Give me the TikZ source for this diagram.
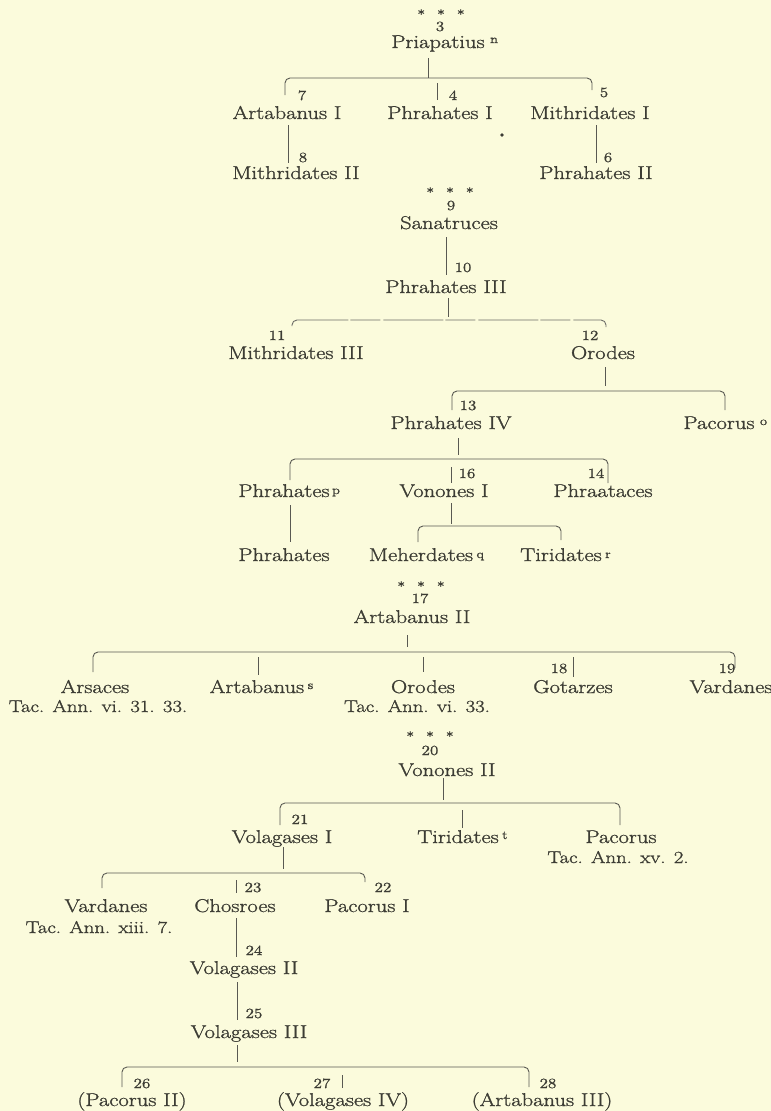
\documentclass[tikz,border=0pt]{standalone}
\usepackage{fontspec}
\setmainfont{Latin Modern Roman}[FakeStretch=1.22, FakeBold=1.2]
\definecolor{paper}{HTML}{FBFBDC}
\definecolor{ink}{HTML}{3C3C34}
\tikzset{
  nm/.style={anchor=base, inner sep=0pt, font=\fontsize{18.5}{18.5}\selectfont, text=ink},
  tac/.style={anchor=base, inner sep=0pt, font=\fontsize{17}{17}\selectfont, text=ink},
  num/.style={anchor=base, inner sep=0pt, font=\fontsize{14}{14}\selectfont, text=ink},
  supl/.style={anchor=base west, inner sep=0pt, font=\fontsize{12}{12}\selectfont, text=ink},
  starrow/.style={anchor=base, inner sep=0pt, font=\fontsize{13}{13}\selectfont, text=ink},
  ln/.style={draw=ink!85, line width=0.9pt},
  br/.style={ln, rounded corners=5pt},
  faint/.style={br, draw=ink!75, dash pattern=on 60pt off 2pt on 30pt off 3pt},
}
\newcommand{\stars}{*\hspace{12pt}*\hspace{12pt}*}
\begin{document}
\begin{tikzpicture}[x=1pt,y=-1pt]
\fill[paper] (0,0) rectangle (771,1111);
\useasboundingbox (0,0) rectangle (771,1111);

% ---------- Priapatius ----------
\node[starrow] (st3) at (441,19) {\stars};
\node[num] (n3) at (440,31) {3};
\node[nm] (pri) at (438,48) {Priapatius};
\node[supl] (priS) at ([xshift=5pt,yshift=5pt]pri.base east) {n};
\draw[ln] (428,58) -- (428,78);
\draw[br] (285,95) -- (285,78) -- (592,78) -- (592,90);
\draw[ln] (437,83) -- (437,100);
\node[num] (n7) at (302,100) {7};
\node[num] (n4) at (453,100) {4};
\node[num] (n5) at (604,97) {5};
\node[nm] (artI) at (287,119) {Artabanus I};
\node[nm] (phrI) at (440,119) {Phrahates I};
\node[nm] (mitI) at (590,119) {Mithridates I};
\fill[ink] (502,135) circle (1.9);
\draw[ln] (288,125) -- (288,163);
\draw[ln] (596,125) -- (596,163);
\node[num] (n8) at (303,162) {8};
\node[num] (n6) at (608,162) {6};
\node[nm] (mitII) at (296,179) {Mithridates II};
\node[nm] (phrII) at (596,179) {Phrahates II};

% ---------- Sanatruces ----------
\node[starrow] (st9) at (450,197) {\stars};
\node[num] (n9) at (451,210) {9};
\node[nm] (sana) at (449,229) {Sanatruces};
\draw[ln] (446,237) -- (446,275);
\node[num] (n10) at (463,272) {10};
\node[nm] (phrIII) at (446,293) {Phrahates III};
\draw[ln] (448,298) -- (448,317);
\draw[faint] (292,326) -- (292,320) -- (606,320) -- (606,327);
\node[num] (n11) at (277,340) {11};
\node[num] (n12) at (590,340) {12};
\node[nm] (mitIII) at (296,359) {Mithridates III};
\node[nm] (orodes) at (603,359) {Orodes};

% ---------- Orodes ----------
\draw[ln] (605,367) -- (605,386);
\draw[br] (452,410) -- (452,391) -- (725,391) -- (725,410);
\node[num] (n13) at (468,410) {13};
\node[nm] (phrIV) at (451,429) {Phrahates IV};
\node[nm] (pacO) at (719,429) {Pacorus};
\node[supl] (pacOS) at ([xshift=5pt,yshift=4pt]pacO.base east) {o};

% ---------- Phrahates IV ----------
\draw[ln] (458,438) -- (458,455);
\draw[br] (290,480) -- (290,459) -- (608,459) -- (608,483);
\draw[ln] (451,467) -- (451,483);
\node[num] (n16) at (467,478) {16};
\node[num] (n14) at (596,478) {14};
\node[nm] (phrP) at (284,497) {Phrahates};
\node[supl] (phrPS) at ([xshift=2pt,yshift=3pt]phrP.base east) {p};
\node[nm] (vonI) at (444,497) {Vonones I};
\node[nm] (phraa) at (603,497) {Phraataces};
\draw[ln] (290,505) -- (290,542);
\draw[ln] (451,503) -- (451,524);
\draw[br] (418,542) -- (418,526) -- (561,526) -- (561,540);
\node[nm] (phr2) at (284,561) {Phrahates};
\node[nm] (meh) at (421,561) {Meherdates};
\node[supl] (mehS) at ([xshift=3pt,yshift=3pt]meh.base east) {q};
\node[nm] (tir) at (561,561) {Tiridates};
\node[supl] (tirS) at ([xshift=3pt,yshift=3pt]tir.base east) {r};

% ---------- Artabanus II ----------
\node[starrow] (st17) at (421,591) {\stars};
\node[num] (n17) at (420,603) {17};
\node[nm] (artII) at (412,623) {Artabanus II};
\draw[ln] (407,635) -- (407,647);
\draw[br] (93,672) -- (93,652) -- (735,652) -- (735,668);
\draw[ln] (258,657) -- (258,675);
\draw[ln] (423,657) -- (423,672);
\draw[ln] (573,657) -- (573,677);
\node[num] (n18) at (559,673) {18};
\node[num] (n19) at (727,673) {19};
\node[nm] (arsaces) at (95,693) {Arsaces};
\node[nm] (artS) at (257,693) {Artabanus};
\node[supl] (artSS) at ([xshift=3pt,yshift=4pt]artS.base east) {s};
\node[nm] (orodes2) at (423,693) {Orodes};
\node[nm] (gotarzes) at (573,693) {Gotarzes};
\node[nm] (vardanes) at (731,693) {Vardanes};
\node[tac] (tac1) at (98,712) {Tac. Ann. vi. 31. 33.};
\node[tac] (tac2) at (417,712) {Tac. Ann. vi. 33.};

% ---------- Vonones II ----------
\node[starrow] (st20) at (430,741) {\stars};
\node[num] (n20) at (430,755) {20};
\node[nm] (vonII) at (447,776) {Vonones II};
\draw[ln] (443,778) -- (443,800);
\draw[br] (280,825) -- (280,803) -- (620,803) -- (620,825);
\draw[ln] (462,810) -- (462,828);
\node[num] (n21) at (300,824) {21};
\node[nm] (volI) at (282,843) {Volagases I};
\node[nm] (tirT) at (458,843) {Tiridates};
\node[supl] (tirTS) at ([xshift=3pt,yshift=4pt]tirT.base east) {t};
\node[nm] (pac) at (621,843) {Pacorus};
\node[tac] (tac3) at (618,863) {Tac. Ann. xv. 2.};

% ---------- Volagases I ----------
\draw[ln] (283,847) -- (283,869);
\draw[br] (102,888) -- (102,873) -- (365,873) -- (365,882);
\draw[ln] (236,880) -- (236,893);
\node[num] (n23) at (253,892) {23};
\node[num] (n22) at (383,892) {22};
\node[nm] (vard2) at (106,912) {Vardanes};
\node[tac] (tac4) at (99,933) {Tac. Ann. xiii. 7.};
\node[nm] (chos) at (235,912) {Chosroes};
\node[nm] (pacI) at (367,912) {Pacorus I};
\draw[ln] (236,918) -- (236,957);
\node[num] (n24) at (254,955) {24};
\node[nm] (volII) at (244,974) {Volagases II};
\draw[ln] (237,982) -- (237,1020);
\node[num] (n25) at (254,1018) {25};
\node[nm] (volIII) at (249,1038) {Volagases III};
\draw[ln] (237,1045) -- (237,1062);
\draw[br] (122,1087) -- (122,1067) -- (529,1067) -- (529,1087);
\draw[ln] (342,1075) -- (342,1088);
\node[num] (n26) at (142,1088) {26};
\node[num] (n27) at (322,1088) {27};
\node[num] (n28) at (548,1088) {28};
\node[nm] (pacII) at (132,1106) {(Pacorus II)};
\node[nm] (volIV) at (343,1106) {(Volagases IV)};
\node[nm] (artIII) at (542,1106) {(Artabanus III)};
\end{tikzpicture}
\end{document}
